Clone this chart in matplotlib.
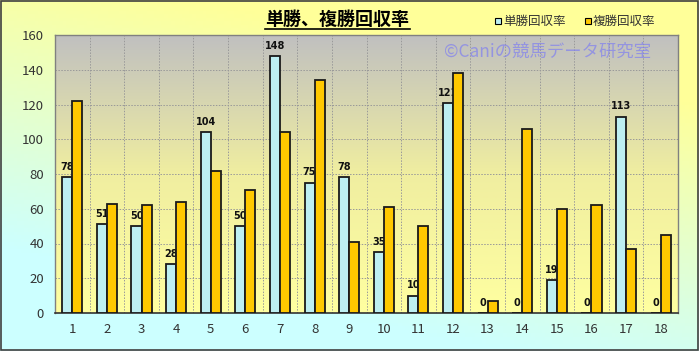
import numpy as np
import matplotlib.pyplot as plt
from matplotlib.colors import LinearSegmentedColormap
from matplotlib.patches import Rectangle

plt.rcParams['font.family'] = ['Noto Sans CJK JP', 'DejaVu Sans']

# data
races = [str(i) for i in range(1, 19)]
tansho = [78, 51, 50, 28, 104, 50, 148, 75, 78, 35, 10, 121, 0, 0, 19, 0, 113, 0]
fukusho = [122, 63, 62, 64, 82, 71, 104, 134, 41, 61, 50, 138, 7, 106, 60, 62, 37, 45]
series_names = ['単勝回収率', '複勝回収率']

fig = plt.figure(figsize=(6.99, 3.51), dpi=100)

# figure background gradient (yellow top-right -> cyan bottom-left)
bg = fig.add_axes([0, 0, 1, 1], zorder=-10)
xx, yy = np.meshgrid(np.linspace(0, 1, 200), np.linspace(0, 1, 100))
w = np.clip(1.2 * yy + 0.5 * xx - 0.35, 0, 1)
bg_cmap = LinearSegmentedColormap.from_list('bg', ['#CCFFFF', '#FFFF99'])
bg.imshow(w, cmap=bg_cmap, origin='lower', aspect='auto', extent=[0, 1, 0, 1])
bg.add_patch(Rectangle((0.001, 0.002), 0.997, 0.995, fill=False, ec='#404040', lw=1.2,
                       transform=bg.transAxes))
bg.set_axis_off()

ax = fig.add_axes([55 / 699, 1 - 313 / 351, 623 / 699, 278 / 351])
ax.set_facecolor('none')

# plot area gradient (gray top -> light yellow bottom)
pa_cmap = LinearSegmentedColormap.from_list('pa', ['#FFFFA0', '#F0EEA0', '#C0C0C0'])
grad = np.linspace(0, 1, 256).reshape(-1, 1)
ax.imshow(grad, cmap=pa_cmap, origin='lower', aspect='auto',
          extent=[0, 1, 0, 1], transform=ax.transAxes, zorder=0)

x = np.arange(1, 19)
bw = 0.29
b1 = ax.bar(x - bw / 2, tansho, bw, color='#BDEFF2', edgecolor='#1a1a1a', lw=1.3, zorder=3)
b2 = ax.bar(x + bw / 2, fukusho, bw, color='#FFC800', edgecolor='#1a1a1a', lw=1.3, zorder=5)

for xi, v in zip(x, tansho):
    ax.text(xi - bw / 2, v + 3, str(v), ha='center', va='bottom', fontsize=7,
            fontweight='bold', color='#111111', zorder=4, family='DejaVu Sans')

ax.set_xlim(0.5, 18.5)
ax.set_ylim(0, 160)
ax.set_yticks(range(0, 161, 20))
ax.set_xticks(x)
ax.set_xticklabels(races)
for yv in range(20, 161, 20):
    ax.axhline(yv, color='#999999', lw=0.7, ls=(0, (1.5, 1.5)), zorder=1)
for xv in np.arange(1.5, 18.5, 1):
    ax.axvline(xv, color='#999999', lw=0.7, ls=(0, (1.5, 1.5)), zorder=1)

ax.tick_params(axis='both', length=0, labelsize=9.5, colors='#333333', pad=8)
ax.tick_params(axis='x', pad=7)
for s in ['top', 'right', 'left']:
    ax.spines[s].set_color('#808080')
    ax.spines[s].set_linewidth(1.0)
ax.spines['bottom'].set_color('#333333')
ax.spines['bottom'].set_linewidth(1.2)

# title
fig.text(337 / 699, 1 - 19 / 351, '単勝、複勝回収率', ha='center', va='center',
         fontsize=13, fontweight='bold', color='black')
fig.add_artist(plt.Line2D([265 / 699, 410 / 699], [1 - 29 / 351, 1 - 29 / 351],
                          color='black', lw=1.2))

# legend
for lx, name, col in [(495, series_names[0], '#BDEFF2'), (585, series_names[1], '#FFC800')]:
    fig.add_artist(Rectangle((lx / 699, 1 - 24 / 351), 6 / 699, 6 / 351, fc=col,
                             ec='black', lw=0.8, transform=fig.transFigure))
    fig.text((lx + 8) / 699, 1 - 21 / 351, name, ha='left', va='center',
             fontsize=9, color='#333333')

# watermark
fig.text(548 / 699, 1 - 52 / 351, '©Caniの競馬データ研究室', ha='center', va='center',
         fontsize=12.5, color='#8080F0', alpha=0.7)

fig.savefig('out.png', dpi=100)
